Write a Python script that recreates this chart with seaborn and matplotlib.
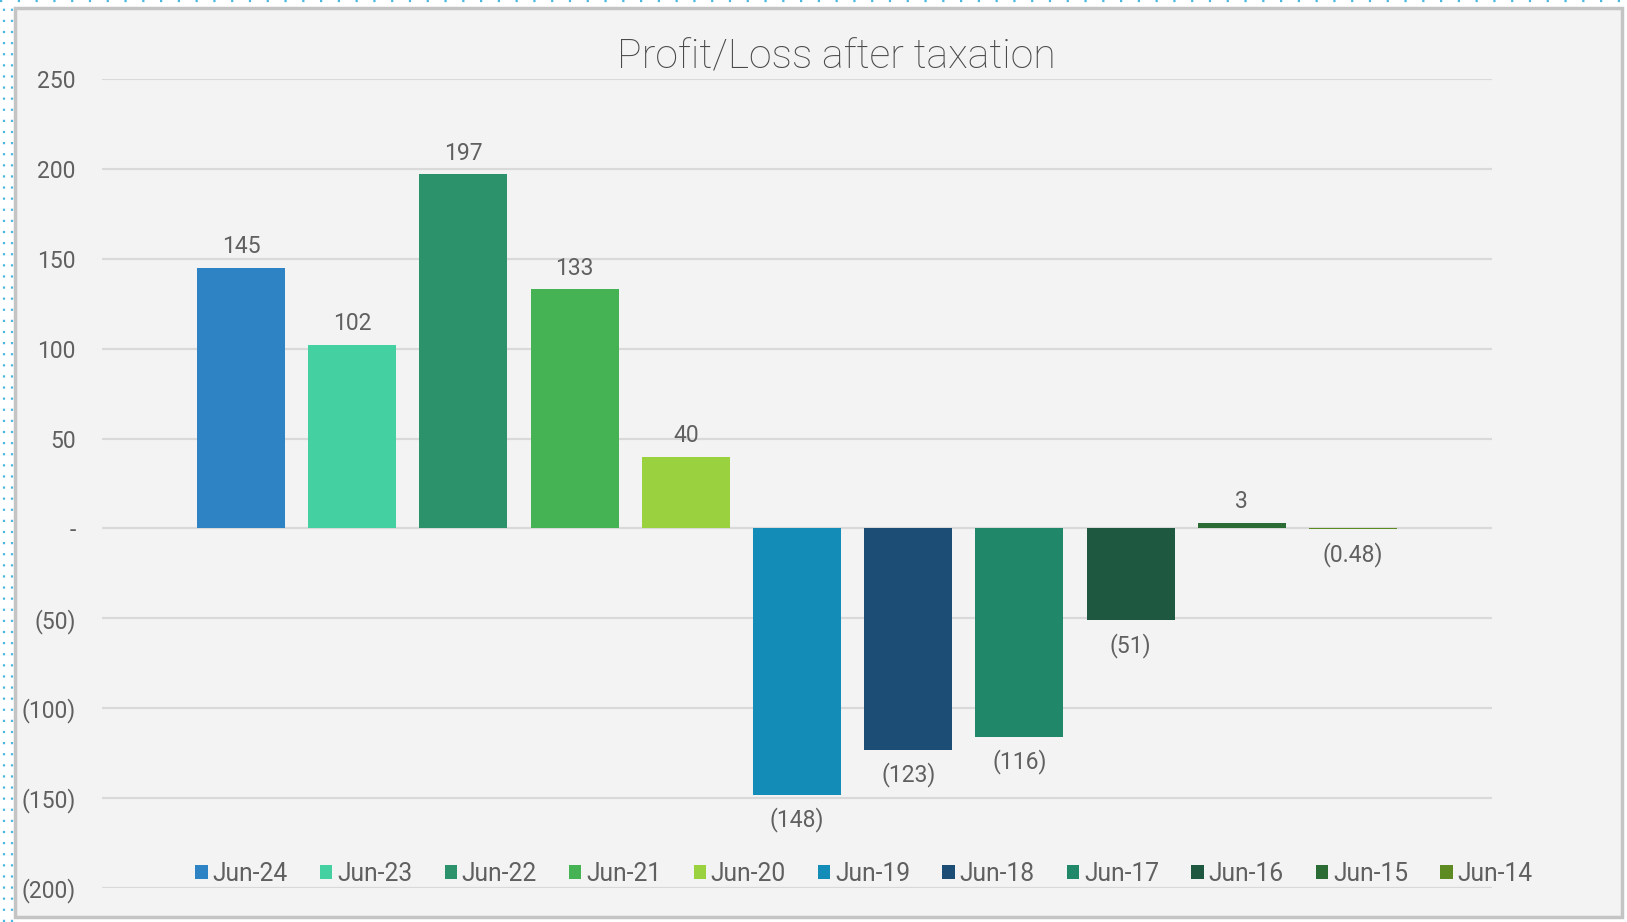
import matplotlib
matplotlib.use("Agg")
import matplotlib.pyplot as plt
from matplotlib.patches import Rectangle, Patch
from matplotlib.lines import Line2D
import seaborn as sns
import pandas as pd

# ---- data ----
periods = ["Jun-24", "Jun-23", "Jun-22", "Jun-21", "Jun-20", "Jun-19",
           "Jun-18", "Jun-17", "Jun-16", "Jun-15", "Jun-14"]
values = [145, 102, 197, 133, 40, -148, -123, -116, -51, 3, -0.48]
colors = ["#2E83C4", "#44D0A1", "#2C926C", "#45B254", "#9AD13F", "#138DB8",
          "#1C4D75", "#218769", "#1E5840", "#2B6B34", "#5E8A22"]
yticks = [-200, -150, -100, -50, 0, 50, 100, 150, 200, 250]
title = "Profit/Loss after taxation"

TEXT = "#606060"
W, H = 1627, 922

sns.set_theme(style="white")
plt.rcParams["font.family"] = ["Roboto", "DejaVu Sans"]

fig = plt.figure(figsize=(W / 100, H / 100), dpi=100)
fig.patch.set_facecolor("white")

# chart area frame
fig.add_artist(Rectangle((15 / W, 1 - 917 / H), (1622 - 15) / W, (917 - 8) / H,
                         transform=fig.transFigure, facecolor="#F3F3F3",
                         edgecolor="#C4C4C4", lw=2.5, zorder=-10))
# dotted selection borders
for xp in (4, 12):
    fig.add_artist(Line2D([xp / W, xp / W], [0, 1], transform=fig.transFigure,
                          color="#4BB8E0", lw=1.6, linestyle=(0, (1, 4))))
fig.add_artist(Line2D([0, 1], [1 - 1 / H, 1 - 1 / H], transform=fig.transFigure,
                      color="#4BB8E0", lw=1.6, linestyle=(0, (1, 7))))

ax = fig.add_axes([102 / W, 1 - 888 / H, (1492 - 102) / W, (888 - 79) / H])
ax.set_facecolor("none")

df = pd.DataFrame({"period": periods, "value": values})
sns.barplot(data=df, x="period", y="value", hue="period", palette=colors,
            hue_order=periods, order=periods, width=0.79, dodge=False,
            saturation=1, legend=False, ax=ax, zorder=3, linewidth=0)

ax.set_xlim(-1.25, 11.25)
ax.set_ylim(-200, 250)
ax.set_yticks(yticks)


def fmt(v):
    if v == 0:
        return "-"
    if abs(v) < 1:
        s = f"{abs(v):.2f}"
    else:
        s = f"{abs(v):.0f}"
    return f"({s})" if v < 0 else s


ax.set_yticklabels([fmt(t) for t in yticks], fontsize=16.5, color=TEXT)
ax.tick_params(axis="y", length=0, pad=19)
ax.set_xticks([])
ax.set_xlabel("")
ax.set_ylabel("")
for s in ax.spines.values():
    s.set_visible(False)
ax.yaxis.grid(True, color="#D9D9D9", lw=1.6, zorder=0)
ax.set_axisbelow(True)

for i, v in enumerate(values):
    if v >= 0:
        ax.annotate(fmt(v), (i, v), xytext=(0, 7), textcoords="offset points",
                    ha="center", va="bottom", fontsize=16.5, color=TEXT)
    else:
        ax.annotate(fmt(v), (i, v), xytext=(0, -9), textcoords="offset points",
                    ha="center", va="top", fontsize=16.5, color=TEXT)

fig.text(806 * 1.0376 / W, 1 - 57 / H, title, ha="center", va="center",
         fontsize=29.5, color="#4A4A4A", fontweight="light")

handles = [Patch(facecolor=c, edgecolor="none", label=p) for p, c in zip(periods, colors)]
leg = ax.legend(handles=handles, ncol=len(periods), loc="center",
                bbox_to_anchor=(864 / W, 1 - 874 / H), bbox_transform=fig.transFigure,
                frameon=False, fontsize=17.75, handlelength=0.5, handleheight=0.5,
                handletextpad=0.2, columnspacing=1.3)
for t in leg.get_texts():
    t.set_color(TEXT)

fig.savefig("out.png", dpi=100, facecolor=fig.get_facecolor())
